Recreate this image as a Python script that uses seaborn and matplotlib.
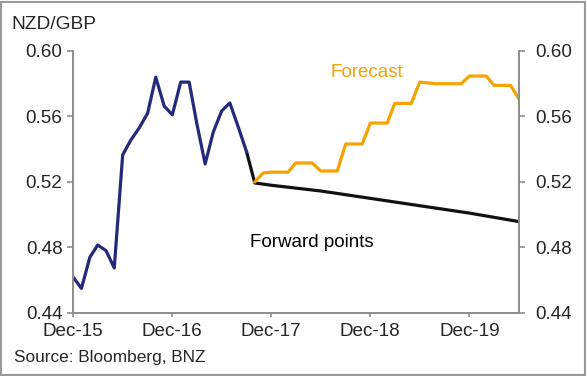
import pandas as pd
import matplotlib.pyplot as plt
import matplotlib.dates as mdates
from matplotlib.patches import Rectangle
import seaborn as sns

sns.set_style("white")
plt.rcParams["font.family"] = ["Liberation Sans", "DejaVu Sans"]

# Dados (leitura do gráfico original)
hist_months = pd.date_range("2015-12-01", periods=22, freq="MS")
hist_values = [0.462, 0.455, 0.474, 0.4815, 0.478, 0.4675, 0.5365, 0.5456,
               0.553, 0.562, 0.584, 0.5664, 0.561, 0.581, 0.581, 0.556,
               0.531, 0.5505, 0.5634, 0.5683, 0.5536, 0.5383]

fwd_months = pd.to_datetime(["2017-09-01", "2017-10-01", "2017-12-01", "2018-06-01",
                             "2018-12-01", "2019-06-01", "2019-12-01", "2020-06-01"])
fwd_values = [0.5383, 0.5194, 0.518, 0.5145, 0.510, 0.5055, 0.501, 0.4958]

fc_months = pd.date_range("2017-10-01", periods=33, freq="MS")
fc_values = [0.520, 0.5255, 0.526, 0.526, 0.526, 0.5316, 0.5316, 0.5316,
             0.5267, 0.5267, 0.5267, 0.5432, 0.5432, 0.5432, 0.556, 0.556,
             0.556, 0.568, 0.568, 0.568, 0.581, 0.5805, 0.580, 0.580,
             0.580, 0.580, 0.5847, 0.5847, 0.5847, 0.579, 0.579, 0.579, 0.5707]

y_ticks = [0.44, 0.48, 0.52, 0.56, 0.60]
x_ticks = pd.to_datetime(["2015-12-01", "2016-12-01", "2017-12-01", "2018-12-01", "2019-12-01"])

hist = pd.DataFrame({"date": hist_months, "value": hist_values})
fwd = pd.DataFrame({"date": fwd_months, "value": fwd_values})
fc = pd.DataFrame({"date": fc_months, "value": fc_values})

fig = plt.figure(figsize=(5.87, 3.76), dpi=100)
ax = fig.add_axes([0.1244, 0.1676, 0.7598, 0.6968])

sns.lineplot(x="date", y="value", data=fwd, ax=ax, color="#111111", linewidth=2.3)
sns.lineplot(x="date", y="value", data=fc, ax=ax, color="#f5a300", linewidth=2.3)
sns.lineplot(x="date", y="value", data=hist, ax=ax, color="#232a7c", linewidth=2.3)

ax.set_xlim(pd.Timestamp("2015-12-01"), pd.Timestamp("2020-06-01"))
ax.set_ylim(0.44, 0.60)
ax.set_xticks(x_ticks)
ax.xaxis.set_major_formatter(mdates.DateFormatter("%b-%y"))
ax.set_yticks(y_ticks)
ax.set_yticklabels([f"{v:.2f}" for v in y_ticks])
ax.set_xlabel("")
ax.set_ylabel("")

ax2 = ax.twinx()
ax2.set_ylim(0.44, 0.60)
ax2.set_yticks(y_ticks)
ax2.set_yticklabels([f"{v:.2f}" for v in y_ticks])

grey = "#8c8c8c"
for a in (ax, ax2):
    a.spines["top"].set_visible(False)
    for side in ("left", "right", "bottom"):
        a.spines[side].set_color(grey)
        a.spines[side].set_linewidth(1.2)
ax.tick_params(axis="y", direction="out", length=4.5, width=1.2, color=grey,
               labelsize=13.6, pad=3, left=True)
ax.tick_params(axis="x", direction="out", length=3, width=1.2, color=grey,
               labelsize=13.6, pad=4.5, bottom=True)
ax2.tick_params(axis="y", direction="out", length=4, width=1.2, color=grey,
                labelsize=13.6, pad=8, right=True)

fig.text(0.02, 0.935, "NZD/GBP", fontsize=13.8, va="center", ha="left")
fig.text(0.024, 0.048, "Source: Bloomberg, BNZ", fontsize=12.4, va="center", ha="left")
ax.text(pd.Timestamp("2018-07-07"), 0.5867, "Forecast", fontsize=13.5, color="#f5a300",
        ha="left", va="center")
ax.text(pd.Timestamp("2017-09-15"), 0.4828, "Forward points", fontsize=13.5, color="black",
        ha="left", va="center")

fig.patches.append(Rectangle((0.002, 0.003), 0.995, 0.993, transform=fig.transFigure,
                             fill=False, edgecolor="#9a9a9a", linewidth=1.5))

fig.savefig("out.png", dpi=100)
